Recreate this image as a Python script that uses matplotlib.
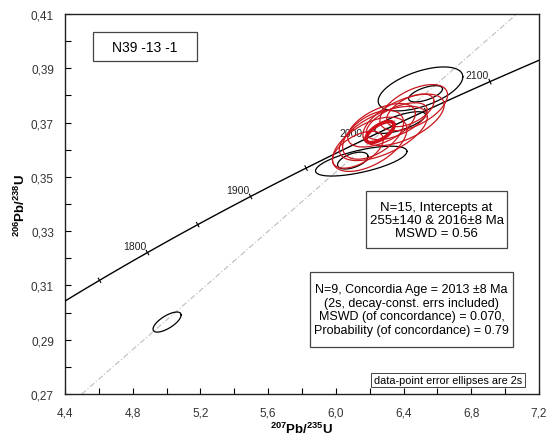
import numpy as np
import matplotlib
matplotlib.use("Agg")
import matplotlib.pyplot as plt
from matplotlib.patches import Rectangle
from matplotlib.ticker import FixedLocator, FuncFormatter

plt.rcParams['font.family'] = ['Liberation Sans', 'DejaVu Sans']
plt.rcParams['mathtext.fontset'] = 'custom'
plt.rcParams['mathtext.rm'] = 'Liberation Sans'
plt.rcParams['mathtext.bf'] = 'Liberation Sans:bold'

# decay constants (1/yr)
LAMBDA_238 = 1.55125e-10
LAMBDA_235 = 9.8485e-10

# concordia age markers (Ma)
marker_ages = [1750, 1800, 1850, 1900, 1950, 2000, 2050, 2100]
label_ages = [1800, 1900, 2000, 2100]

# discordia intercepts (Ma)
lower_intercept = 255
upper_intercept = 2016

# axis ticks
x_major = [4.4, 4.8, 5.2, 5.6, 6.0, 6.4, 6.8, 7.2]
x_minor = [4.6, 5.0, 5.4, 5.8, 6.2, 6.6, 7.0]
y_major = [0.27, 0.29, 0.31, 0.33, 0.35, 0.37, 0.39, 0.41]
y_minor = [0.28, 0.30, 0.32, 0.34, 0.36, 0.38, 0.40]

# analyses: 207Pb/235U, 206Pb/238U, 2s half-extents, error correlation
red_x = [6.20, 6.28, 6.40, 6.46, 6.27, 6.13, 6.36, 6.44, 6.22]
red_y = [0.3620, 0.3660, 0.3710, 0.3755, 0.3690, 0.3600, 0.3705, 0.3745, 0.3655]
red_sx = [0.22, 0.26, 0.24, 0.20, 0.20, 0.15, 0.18, 0.14, 0.18]
red_sy = [0.0100, 0.0100, 0.0095, 0.0085, 0.0080, 0.0068, 0.0068, 0.0060, 0.0090]
red_rho = [0.55, 0.60, 0.58, 0.55, 0.55, 0.55, 0.60, 0.55, 0.50]

black_x = [6.50, 6.15, 6.10, 6.53, 6.38, 5.003]
black_y = [0.3824, 0.3558, 0.3560, 0.3806, 0.3700, 0.2965]
black_sx = [0.25, 0.27, 0.09, 0.10, 0.15, 0.083]
black_sy = [0.0081, 0.0055, 0.0031, 0.0030, 0.0040, 0.0037]
black_rho = [0.55, 0.65, 0.50, 0.60, 0.70, 0.70]

# concordia age ellipse
conc_x, conc_y = 6.261, 0.3665
conc_sx, conc_sy, conc_rho = 0.083, 0.0039, 0.65

W, H = 548, 439
fig = plt.figure(figsize=(W / 100, H / 100), dpi=100)
L, R, T, B = 65, 539, 15, 395
ax = fig.add_axes([L / W, 1 - B / H, (R - L) / W, (B - T) / H])
ax.set_xlim(4.4, 7.2)
ax.set_ylim(0.27, 0.41)


def ratios(t_ma):
    t = np.asarray(t_ma, dtype=float) * 1e6
    return np.expm1(LAMBDA_235 * t), np.expm1(LAMBDA_238 * t)


def ellipse(cx, cy, sx, sy, rho, n=200):
    a = np.linspace(0, 2 * np.pi, n)
    x = cx + sx * np.cos(a)
    y = cy + sy * (rho * np.cos(a) + np.sqrt(1 - rho ** 2) * np.sin(a))
    return x, y


# concordia curve
t_hi = np.log(1 + 7.2) / LAMBDA_235 / 1e6
t_lo = np.log(1 + 4.4) / LAMBDA_235 / 1e6
tt = np.linspace(t_lo, t_hi, 400)
cx_, cy_ = ratios(tt)
ax.plot(cx_, cy_, color='black', lw=1.0, zorder=3)

# discordia line
dx0, dy0 = ratios(lower_intercept)
dx1, dy1 = ratios(upper_intercept)
slope = (dy1 - dy0) / (dx1 - dx0)
xs = np.array([4.4, 7.2])
ax.plot(xs, dy0 + slope * (xs - dx0), color='#bdbdbd', lw=0.8,
        ls=(0, (5, 2, 1, 2)), zorder=1)

# age markers on the concordia
fig.canvas.draw()
for age in marker_ages:
    px, py = ratios(age)
    p = ax.transData.transform((px, py))
    q = ax.transData.transform(ratios(age + 1))
    d = (q - p) / np.hypot(*(q - p))
    nrm = np.array([-d[1], d[0]])
    seg = ax.transData.inverted().transform([p - 2.5 * nrm, p + 2.5 * nrm])
    ax.plot(seg[:, 0], seg[:, 1], color='black', lw=0.8, zorder=3)
    if age in label_ages:
        ax.annotate(str(age), (px, py), xytext=(-1, 1), textcoords='offset points',
                    ha='right', va='bottom', fontsize=7.5, color='#222222', zorder=2)

# error ellipses
for x, y, sx, sy, r in zip(black_x, black_y, black_sx, black_sy, black_rho):
    ex, ey = ellipse(x, y, sx, sy, r)
    ax.plot(ex, ey, color='black', lw=0.9, zorder=4)
for x, y, sx, sy, r in zip(red_x, red_y, red_sx, red_sy, red_rho):
    ex, ey = ellipse(x, y, sx, sy, r)
    ax.plot(ex, ey, color='#c8161d', lw=0.9, zorder=5)
ex, ey = ellipse(conc_x, conc_y, conc_sx, conc_sy, conc_rho)
ax.plot(ex, ey, color='#d0101a', lw=2.6, zorder=6)

# axes styling
ax.xaxis.set_major_locator(FixedLocator(x_major))
ax.xaxis.set_minor_locator(FixedLocator(x_minor))
ax.yaxis.set_major_locator(FixedLocator(y_major))
ax.yaxis.set_minor_locator(FixedLocator(y_minor))
ax.xaxis.set_major_formatter(FuncFormatter(lambda v, p: f"{v:.1f}".replace('.', ',')))
ax.yaxis.set_major_formatter(FuncFormatter(lambda v, p: f"{v:.2f}".replace('.', ',')))
ax.tick_params(which='both', direction='in', length=4, width=0.8,
               top=False, right=False, labelsize=8.5, labelcolor='#333333')
ax.tick_params(axis='y', pad=8)
ax.tick_params(axis='x', pad=9)
for s in ax.spines.values():
    s.set_linewidth(1.0)
    s.set_color('#222222')

fig.text(20 / W, 1 - 205 / H, r'$^{\mathbf{206}}\mathbf{Pb/}^{\mathbf{238}}\mathbf{U}$',
         rotation=90, ha='center', va='center', fontsize=9.5)
fig.text(302 / W, 1 - 429 / H, r'$^{\mathbf{207}}\mathbf{Pb/}^{\mathbf{235}}\mathbf{U}$',
         ha='center', va='center', fontsize=9.5)


def box(x0, y0, x1, y1, lw=0.9):
    fig.add_artist(Rectangle((x0 / W, 1 - y1 / H), (x1 - x0) / W, (y1 - y0) / H,
                             transform=fig.transFigure, facecolor='white',
                             edgecolor='#444444', lw=lw, zorder=10))


box(93, 33, 197, 62)
fig.text(145 / W, 1 - 48 / H, 'N39 -13 -1', ha='center', va='center',
         fontsize=10, zorder=11)

box(366, 192, 507, 249)
fig.text(436.5 / W, 1 - 221 / H, 'N=15, Intercepts at\n255±140 & 2016±8 Ma\nMSWD = 0.56',
         ha='center', va='center', fontsize=9.5, linespacing=1.08, zorder=11)

# concordia-age box: right edge fixed, width fitted to its text
conc_txt = fig.text(437 / W, 1 - 310.5 / H,
                    'N=9, Concordia Age = 2013 ±8 Ma\n(2s, decay-const. errs included)\n'
                    'MSWD (of concordance) = 0.070,\nProbability (of concordance) = 0.79',
                    ha='center', va='center', fontsize=9.0, linespacing=1.2, zorder=11)
fig.canvas.draw()
tw = conc_txt.get_window_extent().width
cx_box = 513 - 4 - tw / 2
conc_txt.set_x(cx_box / W)
box(cx_box - tw / 2 - 4, 273, 513, 348)

box(371, 374, 525, 388, lw=0.7)
fig.text(448 / W, 1 - 381 / H, 'data-point error ellipses are 2s',
         ha='center', va='center', fontsize=7.8, zorder=11)

fig.savefig('out.png', dpi=100)
